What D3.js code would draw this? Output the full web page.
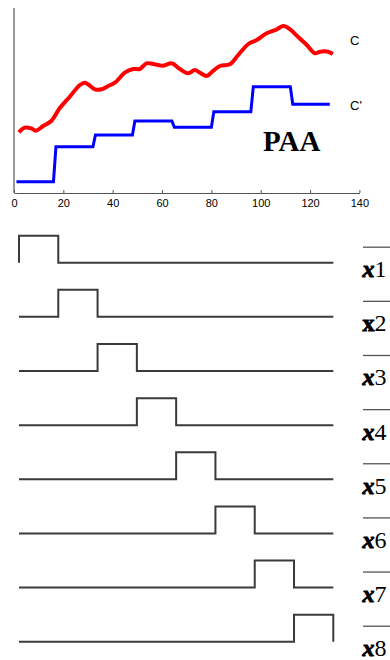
<!DOCTYPE html>
<head>
    <meta charset="utf-8">
    <title>PAA</title>
    <style>
        body { margin: 0; background: #fff; }
    </style>
</head>

<body>

    <svg width="390" height="660"></svg>

    <script src="https://d3js.org/d3.v7.min.js"></script>

    <script>

        // time series C (x = sample index, y = arbitrary units)
        var cX = [2, 4.3, 7, 8.8, 11.8, 15.2, 18.5, 22.6, 26.7, 28.7, 30.4, 32.8, 35.5, 38.2, 40.9, 44.9,
                  48.3, 51, 53.7, 56.4, 60.5, 63.9, 67.2, 70.6, 73.3, 75.4, 78.1, 80.8, 83.5, 87.5, 90.9,
                  95, 98.4, 102.4, 106.5, 109.2, 111.9, 115.3, 118.7, 122, 124.1, 127.4, 129.2];
        var cY = [60.7, 65.3, 64.7, 62.3, 67, 72.3, 84.7, 96.3, 108, 110.3, 108, 103.7, 103.7, 107, 110.3, 120.3,
                  124, 124, 129.7, 129, 127.3, 129.7, 124, 119.7, 123, 120.3, 117, 122.3, 127, 128.7, 138,
                  149, 153, 159.7, 163.7, 167, 163.7, 155.7, 148, 139.7, 141.3, 141.3, 139];

        // PAA approximation C': one level per 16-sample frame
        var paaLevels = [11.3, 46.3, 58, 72, 65.7, 81.3, 106.3, 88.7];
        var frameEdges = [0, 16, 32, 48, 64, 80, 96, 112, 128];

        var xTicks = [0, 20, 40, 60, 80, 100, 120, 140];

        // basis functions x1..x8
        var basisNames = ["1", "2", "3", "4", "5", "6", "7", "8"];

        var svg = d3.select("svg");

        // ---- top panel ----
        var x = d3.scaleLinear().domain([0, 140]).range([14, 359.4]),
            y = d3.scaleLinear().domain([0, 185]).range([193, 8]);

        var g = svg.append("g");

        g.append("line")
            .attr("x1", x(0)).attr("x2", x(0))
            .attr("y1", y(185)).attr("y2", y(0))
            .attr("stroke", "#555").attr("stroke-width", 1.2);

        var xAxis = g.append("g")
            .attr("transform", "translate(0," + y(0) + ")")
            .call(d3.axisBottom(x).tickValues(xTicks).tickSizeInner(-3).tickSizeOuter(0).tickPadding(6));
        xAxis.select(".domain").attr("stroke", "#555").attr("stroke-width", 1.2);
        xAxis.selectAll(".tick line").attr("stroke", "#555");
        xAxis.selectAll("text")
            .attr("fill", "#000")
            .style("font", "11px 'Liberation Sans', Arial, sans-serif");

        var cData = cX.map(function (d, i) { return [d, cY[i]]; });

        var line = d3.line()
            .x(function (d) { return x(d[0]); })
            .y(function (d) { return y(d[1]); });

        g.append("path")
            .datum(cData)
            .attr("fill", "none")
            .attr("stroke", "#ff0000")
            .attr("stroke-width", 4)
            .attr("stroke-linejoin", "round")
            .attr("d", d3.line().curve(d3.curveCatmullRom)
                .x(function (d) { return x(d[0]); })
                .y(function (d) { return y(d[1]); }));

        var paaData = [];
        paaLevels.forEach(function (v, k) {
            paaData.push([frameEdges[k] + 1, v]);
            paaData.push([frameEdges[k + 1], v]);
        });

        g.append("path")
            .datum(paaData)
            .attr("fill", "none")
            .attr("stroke", "#0000ff")
            .attr("stroke-width", 3)
            .attr("d", line);

        g.append("text")
            .attr("x", 350).attr("y", 45)
            .style("font", "13px 'Liberation Sans', Arial, sans-serif")
            .text("C");

        g.append("text")
            .attr("x", 350).attr("y", 109.5)
            .style("font", "13px 'Liberation Sans', Arial, sans-serif")
            .text("C'");

        g.append("text")
            .attr("x", 263).attr("y", 151)
            .style("font", "bold 29px 'Liberation Serif', 'Times New Roman', serif")
            .text("PAA");

        // ---- bottom panel: frame indicator functions ----
        var bx = d3.scaleLinear().domain([0, 128]).range([19, 333.3]);
        var rowY = d3.scalePoint().domain(basisNames).range([262.7, 641.7]);
        var pulseH = 27;

        var rows = svg.selectAll(".row")
            .data(basisNames)
            .enter().append("g")
            .attr("class", "row");

        rows.append("path")
            .attr("fill", "none")
            .attr("stroke", "#3a3a3a")
            .attr("stroke-width", 2)
            .attr("d", function (name, k) {
                var pts = [[0, 0]];
                frameEdges.slice(0, 8).forEach(function (e, i) {
                    pts.push([e, i === k ? 1 : 0]);
                });
                pts.push([128, k === 7 ? 1 : 0]);
                pts.push([128, 0]);
                return d3.line().curve(d3.curveStepAfter)
                    .x(function (d) { return bx(d[0]); })
                    .y(function (d) { return rowY(name) - d[1] * pulseH; })(pts);
            });

        rows.append("line")
            .attr("x1", 363).attr("x2", 392)
            .attr("y1", function (d) { return rowY(d) - 15.5; })
            .attr("y2", function (d) { return rowY(d) - 15.5; })
            .attr("stroke", "#555").attr("stroke-width", 1.3);

        var lab = rows.append("text")
            .attr("x", 362.5)
            .attr("y", function (d) { return rowY(d) + 14.5; })
            .attr("font-family", "'Liberation Serif', 'Times New Roman', serif")
            .attr("font-size", 24)
            .attr("fill", "#000");

        // heavy x, as in the figure
        lab.append("tspan")
            .attr("font-weight", 700)
            .attr("font-style", function (d) { return d === "2" ? "normal" : "italic"; })
            .attr("stroke", "#000")
            .attr("stroke-width", 0.9)
            .text("x");

        lab.append("tspan")
            .attr("font-weight", 400)
            .text(function (d) { return d; });

    </script>

</body>
